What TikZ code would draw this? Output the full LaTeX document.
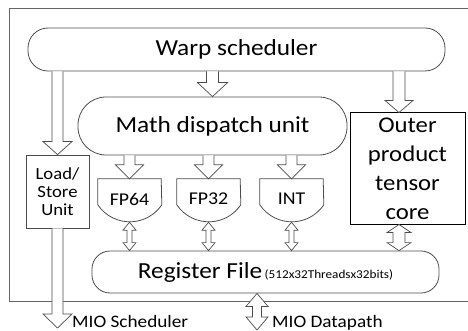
\documentclass[tikz,border=0pt]{standalone}
\usepackage{fontspec}
\setmainfont{Carlito}[FakeStretch=1.1]
\usetikzlibrary{calc}

\tikzset{
  unit/.style={draw=black!70, line width=0.8pt, inner sep=0pt, align=center},
  pill/.style={unit, rounded corners=#1},
  gatebox/.style={inner sep=0pt, minimum width=63, minimum height=43, font=\fontsize{18}{20}\selectfont},
  hollow/.style={draw=black!70, line width=0.7pt, fill=white, line join=miter},
  frame/.style={draw=black!60, line width=0.8pt},
  bigtxt/.style={font=\fontsize{23}{28}\selectfont},
  miotxt/.style={inner sep=0pt, anchor=base west, font=\fontsize{17.5}{22}\selectfont},
}

% hollow arrow: start (#1), tip (#2), shaft half width, head half width, head length
\newcommand{\dnarrow}[5]{%
  \draw[hollow] let \p1=(#1), \p2=(#2) in
    ({\x1-#3},\y1) -- ({\x1-#3},{\y2+#5}) -- ({\x1-#4},{\y2+#5}) -- (\x1,\y2)
    -- ({\x1+#4},{\y2+#5}) -- ({\x1+#3},{\y2+#5}) -- ({\x1+#3},\y1);
}
% hollow double arrow between (#1) above and (#2) below
\newcommand{\dbarrow}[5]{%
  \draw[hollow] let \p1=(#1), \p2=(#2) in
    (\x1,\y1) -- ({\x1+#4},{\y1-#5}) -- ({\x1+#3},{\y1-#5}) -- ({\x1+#3},{\y2+#5})
    -- ({\x1+#4},{\y2+#5}) -- (\x1,\y2) -- ({\x1-#4},{\y2+#5}) -- ({\x1-#3},{\y2+#5})
    -- ({\x1-#3},{\y1-#5}) -- ({\x1-#4},{\y1-#5}) -- cycle;
}
% flat top, round bottom
\newcommand{\gate}[1]{%
  \draw[unit] (#1.north west) -- ($(#1.north west)+(0,26)$)
    arc[start angle=146, end angle=34, radius=38.6] -- (#1.north east) -- cycle;
}

\begin{document}
\begin{tikzpicture}[x=1pt,y=-1pt]
  \useasboundingbox (0,0) rectangle (468,331);
%
  \draw[frame] (470,8) -- (9,8) -- (9,301) -- (470,301);
%
  \node[pill=20pt, bigtxt, minimum width=417, minimum height=43] (warp) at (236.5,49.5)
    {\raisebox{-4pt}{Warp scheduler}};
  \node[pill=28pt, bigtxt, minimum width=269, minimum height=58] (math) at (212.5,126)
    {\raisebox{-1pt}{Math dispatch unit}};
  \node[unit, minimum width=63, minimum height=73, font=\fontsize{17}{18}\selectfont] (ls) at (57.5,191.5)
    {Load/\\Store\\Unit};
  \node[unit, draw=black, line width=1pt, minimum width=115, minimum height=111,
        font=\fontsize{22.5}{29}\selectfont] (outer) at (407.5,168.5)
    {Outer\\product\\tensor\\core};
  \node[gatebox] (fp64) at (129.5,200.5) {\raisebox{3pt}{FP64}};
  \node[gatebox] (fp32) at (208.5,200.5) {\raisebox{3pt}{FP32}};
  \node[gatebox] (int)  at (291.5,200.5) {\raisebox{3pt}{INT}};
  \gate{fp64}
  \gate{fp32}
  \gate{int}
  \node[pill=18pt, minimum width=347, minimum height=42] (reg) at (265.5,272)
    {\raisebox{-5pt}{{\fontsize{23}{28}\selectfont Register File} {\fontsize{12}{13}\selectfont (512x32Threadsx32bits)}}};
%
  \coordinate (tcin) at ([xshift=-8.5]outer.north);
  \coordinate (miosched) at (57.5,328);
  \coordinate (miodata) at (257,330);
  \node[miotxt] (mioschedtxt) at (72,327) {MIO Scheduler};
  \node[miotxt] (miodatatxt) at (272,327) {MIO Datapath};
%
  \dnarrow{warp.south -| math.north}{math.north}{6pt}{15pt}{14pt}
  \dnarrow{warp.south -| tcin}{tcin}{6pt}{14pt}{12pt}
  \dnarrow{warp.south -| ls.north}{ls.north}{5.5pt}{14.5pt}{13pt}
  \dnarrow{math.south -| fp64.north}{fp64.north}{5.5pt}{14pt}{14pt}
  \dnarrow{math.south -| fp32.north}{fp32.north}{5.5pt}{14pt}{14pt}
  \dnarrow{math.south -| int.north}{int.north}{5.5pt}{14pt}{14pt}
  \dnarrow{ls.south}{miosched}{5.5pt}{14.5pt}{14pt}
%
  \dbarrow{fp64.south}{reg.north -| fp64.south}{2.5pt}{6.5pt}{8pt}
  \dbarrow{fp32.south}{reg.north -| fp32.south}{2.5pt}{6.5pt}{8pt}
  \dbarrow{int.south}{reg.north -| int.south}{2.5pt}{6.5pt}{8pt}
  \dbarrow{outer.south -| tcin}{reg.north -| tcin}{6pt}{12pt}{8pt}
  \dbarrow{reg.south -| miodata}{miodata}{4.5pt}{11pt}{13pt}
\end{tikzpicture}
\end{document}
